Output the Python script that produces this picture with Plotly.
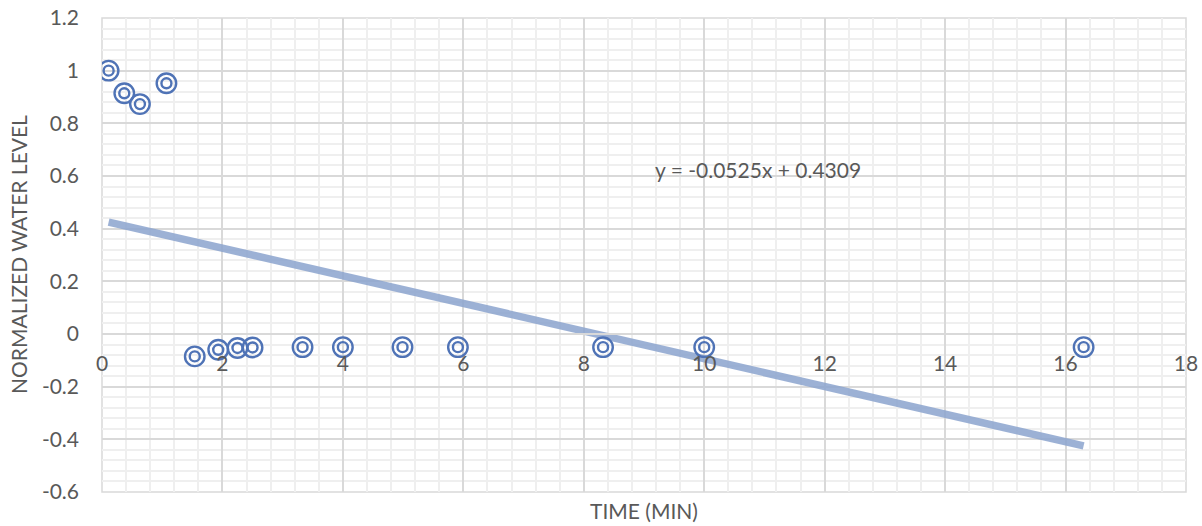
import plotly.graph_objects as go
import numpy as np

# Data
time_min = [0.11, 0.37, 0.63, 1.07, 1.54, 1.93, 2.25, 2.50, 3.33, 4.00, 4.99, 5.91, 8.32, 10.00, 16.30]
water_level = [1.00, 0.914, 0.873, 0.952, -0.085, -0.06, -0.053, -0.051, -0.05, -0.05, -0.05, -0.05, -0.05, -0.05, -0.05]

# Linear trendline coefficients (as shown on chart)
slope = -0.0525
intercept = 0.4309
equation_label = "y = -0.0525x + 0.4309"

x_ticks = [0, 2, 4, 6, 8, 10, 12, 14, 16, 18]
y_ticks = [-0.6, -0.4, -0.2, 0, 0.2, 0.4, 0.6, 0.8, 1, 1.2]
y_tick_text = ["-0.6", "-0.4", "-0.2", "0", "0.2", "0.4", "0.6", "0.8", "1", "1.2"]

x_range = [0, 18]
y_range = [-0.6, 1.2]

font_family = "Lato, 'Open Sans', sans-serif"
fs = 21
text_color = "#595959"
marker_color = "#4F73B6"
trend_color = "rgba(139,163,206,0.85)"
major_grid = "#D9D9D9"
minor_grid = "#EFEFEF"

trend_x = np.array([min(time_min), max(time_min)])
trend_y = slope * trend_x + intercept

fig = go.Figure()

fig.add_trace(go.Scatter(
    x=trend_x, y=trend_y, mode="lines",
    line=dict(color=trend_color, width=7.5),
    hoverinfo="skip", showlegend=False,
))

# Double-ring markers
fig.add_trace(go.Scatter(
    x=time_min, y=water_level, mode="markers",
    marker=dict(symbol="circle-open", size=19.5, color=marker_color, line=dict(width=2.4, color=marker_color)),
    showlegend=False,
))
fig.add_trace(go.Scatter(
    x=time_min, y=water_level, mode="markers",
    marker=dict(symbol="circle-open", size=10, color=marker_color, line=dict(width=2.4, color=marker_color)),
    showlegend=False, hoverinfo="skip",
))

fig.add_annotation(
    x=10.9, y=0.625, xref="x", yref="y", text=equation_label, showarrow=False,
    font=dict(family=font_family, size=fs, color=text_color),
)

fig.add_annotation(
    x=0.5, y=-0.04, xref="paper", yref="paper", text="TIME (MIN)", showarrow=False,
    xanchor="center", yanchor="middle",
    font=dict(family=font_family, size=fs, color=text_color),
)

fig.add_annotation(
    x=0, y=0.5, xref="paper", yref="paper", text="NORMALIZED WATER LEVEL", showarrow=False,
    xanchor="center", yanchor="middle", textangle=-90, xshift=-84,
    font=dict(family=font_family, size=fs, color=text_color),
)

# Plot area border
fig.add_shape(type="rect", xref="paper", yref="paper", x0=0, y0=0, x1=1, y1=1,
              line=dict(color=major_grid, width=1.5), layer="below")

zero_pos = (0 - y_range[0]) / (y_range[1] - y_range[0])

fig.update_layout(
    width=1202, height=526,
    margin=dict(l=102, r=16, t=18, b=34),
    plot_bgcolor="white", paper_bgcolor="white",
    font=dict(family=font_family, size=fs, color=text_color),
    xaxis=dict(
        range=x_range, tickvals=x_ticks, ticktext=[str(v) for v in x_ticks],
        showgrid=True, gridcolor=major_grid, gridwidth=1.5,
        minor=dict(dtick=0.4, tick0=0, showgrid=True, gridcolor=minor_grid, gridwidth=1.5),
        zeroline=False, showline=True, linecolor=major_grid, linewidth=1.5,
        anchor="free", position=zero_pos, ticks="", ticklabelstandoff=11,
        tickfont=dict(size=fs, color=text_color), automargin=False,
    ),
    yaxis=dict(
        range=y_range, tickvals=y_ticks, ticktext=y_tick_text,
        showgrid=True, gridcolor=major_grid, gridwidth=1.5,
        minor=dict(dtick=0.04, tick0=0, showgrid=True, gridcolor=minor_grid, gridwidth=1.5),
        zeroline=False, showline=False, ticks="", ticklabelstandoff=22,
        tickfont=dict(size=fs, color=text_color), automargin=False,
    ),
)

fig.write_html(
    "out.html",
    config={"displayModeBar": False},
    post_script="document.body.style.margin='0';document.body.style.overflow='hidden';",
)
